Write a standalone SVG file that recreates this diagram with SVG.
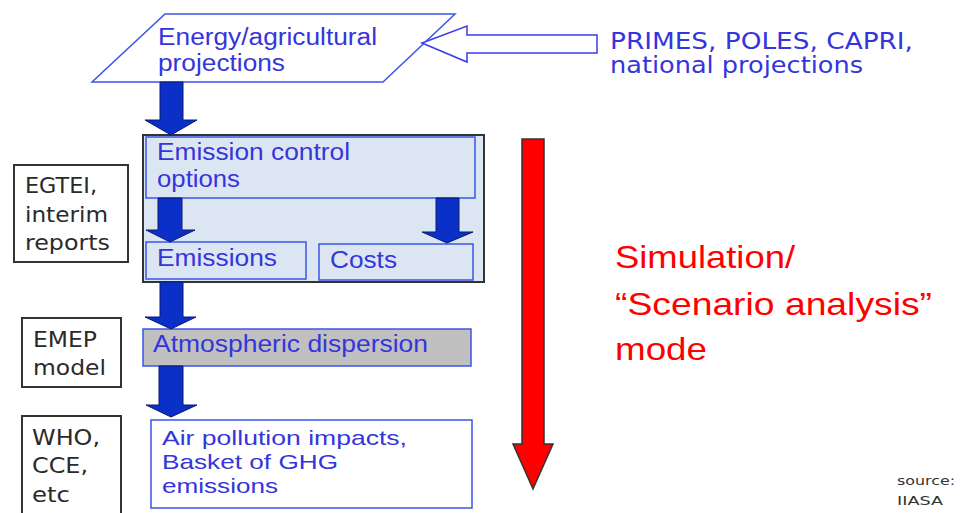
<svg xmlns="http://www.w3.org/2000/svg" width="964" height="513" viewBox="0 0 964 513">
<style>
.bt{font-family:"Liberation Sans",Arial,sans-serif;font-size:23px;fill:#3535dc}
.bs{font-size:21px}
.vt{font-family:"DejaVu Sans",Verdana,sans-serif;font-size:21px;fill:#2a2a2a}
.pt{font-family:"DejaVu Sans",Verdana,sans-serif;font-size:23px;fill:#3535dc}
.rt{font-family:"Liberation Sans",Arial,sans-serif;font-size:32px;fill:#ff0000}
.st{font-family:"DejaVu Sans",Verdana,sans-serif;font-size:12px;fill:#333}
.ib{fill:#dce6f2;stroke:#3a55e8;stroke-width:1.5}
.lb{fill:#fff;stroke:#333;stroke-width:2}
.ba{fill:#0a30c8;stroke:#0a1a70;stroke-width:1}
</style>
<rect width="964" height="513" fill="#fff"/>
<g id="projections">
<polygon points="165,14 455,14 383,82 92,82" fill="#fff" stroke="#3a55e8" stroke-width="1.5"/>
<text class="bt" x="158" y="45" textLength="219" lengthAdjust="spacingAndGlyphs">Energy/agricultural</text>
<text class="bt" x="158" y="71" textLength="127" lengthAdjust="spacingAndGlyphs">projections</text>
</g>
<g id="primes">
<text class="pt" x="610" y="49" textLength="303" lengthAdjust="spacingAndGlyphs">PRIMES, POLES, CAPRI,</text>
<text class="pt" x="610" y="73" textLength="253" lengthAdjust="spacingAndGlyphs">national projections</text>
</g>
<g id="emission-block">
<rect x="143" y="135" width="341" height="147" fill="#dce6f2" stroke="#333" stroke-width="2"/>
</g>
<g id="control-options">
<rect class="ib" x="146" y="137" width="329" height="61"/>
<text class="bt" x="157" y="160" textLength="193" lengthAdjust="spacingAndGlyphs">Emission control</text>
<text class="bt" x="157" y="187" textLength="83" lengthAdjust="spacingAndGlyphs">options</text>
</g>
<g id="emissions">
<rect class="ib" x="146" y="242" width="160" height="37"/>
<text class="bt" x="157" y="266" textLength="120" lengthAdjust="spacingAndGlyphs">Emissions</text>
</g>
<g id="costs">
<rect class="ib" x="319" y="244" width="154" height="36"/>
<text class="bt" x="330" y="268" textLength="67" lengthAdjust="spacingAndGlyphs">Costs</text>
</g>
<g id="dispersion">
<rect x="143" y="329" width="328" height="37" fill="#c0c0c0" stroke="#3a55e8" stroke-width="1.5"/>
<text class="bt" x="153" y="352" textLength="275" lengthAdjust="spacingAndGlyphs">Atmospheric dispersion</text>
</g>
<g id="impacts">
<rect x="151" y="420" width="321" height="88" fill="#fff" stroke="#3a55e8" stroke-width="1.5"/>
<text class="bt bs" x="162" y="445" textLength="245" lengthAdjust="spacingAndGlyphs">Air pollution impacts,</text>
<text class="bt bs" x="162" y="469" textLength="176" lengthAdjust="spacingAndGlyphs">Basket of GHG</text>
<text class="bt bs" x="162" y="493" textLength="116" lengthAdjust="spacingAndGlyphs">emissions</text>
</g>
<g id="egtei">
<rect class="lb" x="14" y="165" width="114" height="97"/>
<text class="vt" x="25" y="193" textLength="72" lengthAdjust="spacingAndGlyphs">EGTEI,</text>
<text class="vt" x="25" y="222" textLength="83" lengthAdjust="spacingAndGlyphs">interim</text>
<text class="vt" x="25" y="250" textLength="85" lengthAdjust="spacingAndGlyphs">reports</text>
</g>
<g id="emep">
<rect class="lb" x="22" y="318" width="99" height="69"/>
<text class="vt" x="33" y="347" textLength="64" lengthAdjust="spacingAndGlyphs">EMEP</text>
<text class="vt" x="33" y="375" textLength="73" lengthAdjust="spacingAndGlyphs">model</text>
</g>
<g id="who">
<rect class="lb" x="22" y="416" width="99" height="100"/>
<text class="vt" x="32" y="445" textLength="68" lengthAdjust="spacingAndGlyphs">WHO,</text>
<text class="vt" x="32" y="473" textLength="56" lengthAdjust="spacingAndGlyphs">CCE,</text>
<text class="vt" x="32" y="502" textLength="38" lengthAdjust="spacingAndGlyphs">etc</text>
</g>
<g id="mode">
<text class="rt" x="615" y="268" textLength="180" lengthAdjust="spacingAndGlyphs">Simulation/</text>
<text class="rt" x="615" y="315" textLength="317" lengthAdjust="spacingAndGlyphs">“Scenario analysis”</text>
<text class="rt" x="615" y="360" textLength="92" lengthAdjust="spacingAndGlyphs">mode</text>
</g>
<g id="source">
<text class="st" x="897" y="485" textLength="58" lengthAdjust="spacingAndGlyphs">source:</text>
<text class="st" x="897" y="505" textLength="46" lengthAdjust="spacingAndGlyphs">IIASA</text>
</g>
<g id="connectors">
<polygon class="ba" points="160,82 183,82 183,120 197,120 171,135 145,120 160,120"/>
<polygon class="ba" points="158,198 182,198 182,230 195,230 170,242 146,230 158,230"/>
<polygon class="ba" points="436,198 459,198 459,232 473,232 447,243 422,232 436,232"/>
<polygon class="ba" points="160,282 183,282 183,317 196,317 171,329 145,317 160,317"/>
<polygon class="ba" points="159,366 183,366 183,405 197,405 171,417 146,405 159,405"/>
<polygon points="422,43 467,26 467,35 597,35 597,53 467,53 467,62" fill="#fff" stroke="#3a3aee" stroke-width="1.5"/>
<polygon points="522,139 544,139 544,444 553,444 533,489 513,444 522,444" fill="#ff0000" stroke="#333" stroke-width="1.5"/>
</g>
</svg>
